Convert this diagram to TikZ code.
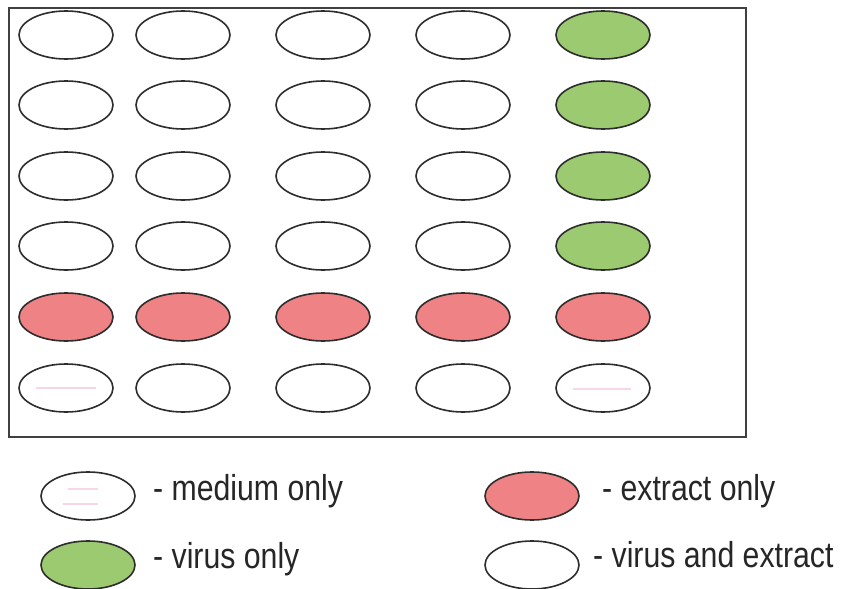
\documentclass[tikz,border=0pt]{standalone}
\usepackage{fontspec}
\newfontfamily\labfont[FakeStretch=0.84]{Liberation Sans}
\usetikzlibrary{shapes.geometric}
\definecolor{wellgreen}{RGB}{156,202,112}
\definecolor{wellred}{RGB}{239,130,132}
\definecolor{welledge}{RGB}{45,45,45}
\definecolor{smudge}{RGB}{248,214,232}
\tikzset{
  well/.style={ellipse, draw=welledge, line width=1.6pt, minimum width=94pt, minimum height=48pt, inner sep=0pt, fill=white},
  greenwell/.style={well, fill=wellgreen},
  redwell/.style={well, fill=wellred},
  labtext/.style={anchor=base west, inner sep=0pt, font=\labfont\fontsize{36pt}{40pt}\selectfont, text=black!85},
}
\begin{document}
\begin{tikzpicture}[x=1pt,y=-1pt]
\useasboundingbox (0,0) rectangle (844,589);
\fill[white] (0,0) rectangle (844,589);
\node[draw=black!75, line width=1.6pt, minimum width=737pt, minimum height=429pt, inner sep=0pt, anchor=north west] (plate) at (8,7) {};
% columns / rows
\foreach \r/\y in {1/35,2/105,3/176,4/246}{
  \foreach \c/\x in {1/66,2/183,3/323,4/463}{
    \node[well] (w-\r-\c) at (\x,\y) {};
  }
  \node[greenwell] (w-\r-5) at (603,\y) {};
}
\foreach \c/\x in {1/66,2/183,3/323,4/463,5/603}{
  \node[redwell] (w-5-\c) at (\x,317) {};
  \node[well] (w-6-\c) at (\x,388) {};
}
\draw[smudge, line width=2pt] ([xshift=-30pt]w-6-1.center) -- ([xshift=30pt]w-6-1.center);
\draw[smudge, line width=2pt] ([xshift=-30pt,yshift=-1pt]w-6-5.center) -- ([xshift=28pt,yshift=-1pt]w-6-5.center);
% legend
\node[well] (lg-medium) at (88,496) {};
\draw[smudge, line width=2pt] ([xshift=-25pt,yshift=-8pt]lg-medium.center) -- ([xshift=10pt,yshift=-8pt]lg-medium.center);
\draw[smudge, line width=2pt] ([xshift=-20pt,yshift=7pt]lg-medium.center) -- ([xshift=10pt,yshift=7pt]lg-medium.center);
\node[labtext] (t-medium) at (153,500) {- medium only};
\node[greenwell] (lg-virus) at (88,565) {};
\node[labtext] (t-virus) at (153,568) {- virus only};
\node[redwell] (lg-extract) at (532,496) {};
\node[labtext] (t-extract) at (602,500) {- extract only};
\node[well] (lg-both) at (532,565) {};
\node[labtext] (t-both) at (593,567) {- virus and extract};
\end{tikzpicture}
\end{document}
